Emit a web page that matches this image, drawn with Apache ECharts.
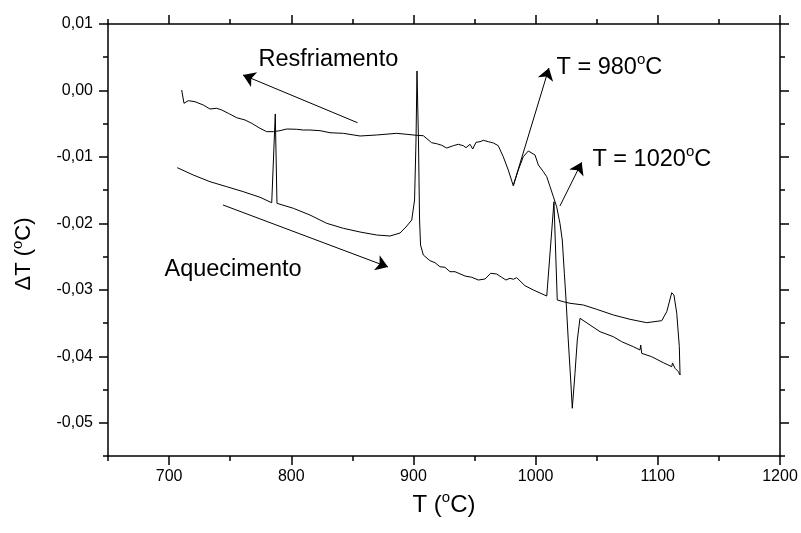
<!DOCTYPE html>
<html><head><meta charset="utf-8">
<script src="https://cdn.jsdelivr.net/npm/echarts@6/dist/echarts.min.js"></script>
<style>html,body{margin:0;padding:0;background:#fff}#c{width:801px;height:533px}</style>
</head><body><div id="c"></div>
<script>
// ---- data ----
const xTicks = [700, 800, 900, 1000, 1100, 1200];
const yTicks = [-0.05, -0.04, -0.03, -0.02, -0.01, 0.00, 0.01];

// Heating run (Aquecimento), in recording order
const heatingT = [706.7,719.8,733.5,747.2,760.7,774.4,784.0,786.9,788.3,801.7,815.3,829.0,842.6,856.3,869.9,880.8,889.0,893.9,898.6,900.9,902.1,902.9,904.1,905.0,905.8,908.1,913.5,917.6,921.7,925.8,929.9,934.0,942.2,947.7,953.1,958.6,963.2,968.1,972.2,975.7,979.0,981.7,984.5,991.3,998.1,1009.1,1015.0,1017.7,1022.6,1028.1,1039.0,1050.0,1063.6,1077.2,1090.9,1103.2,1107.3,1111.4,1113.2,1115.5,1117.6,1118.2];
const heatingDT = [-0.01162,-0.01272,-0.01373,-0.01448,-0.01523,-0.01607,-0.01689,-0.00354,-0.01698,-0.01773,-0.01874,-0.01999,-0.02074,-0.0213,-0.02175,-0.0219,-0.02145,-0.02054,-0.01949,-0.01648,-0.00745,0.00293,-0.00745,-0.01949,-0.02325,-0.02476,-0.02561,-0.02591,-0.02652,-0.02661,-0.02727,-0.02727,-0.02792,-0.02811,-0.02852,-0.02837,-0.02751,-0.02762,-0.02811,-0.02852,-0.02826,-0.02841,-0.02817,-0.02938,-0.03002,-0.03093,-0.01674,-0.03153,-0.03178,-0.03202,-0.03228,-0.03293,-0.03378,-0.03443,-0.03494,-0.03464,-0.03329,-0.03043,-0.03077,-0.03353,-0.03855,-0.04281];

// Cooling run (Resfriamento), in recording order (from the maximum temperature downwards)
const coolingT = [1118.2,1116.8,1114.1,1112.0,1111.4,1104.5,1095.0,1086.8,1086.0,1085.4,1079.9,1070.4,1063.6,1052.7,1044.5,1036.3,1034.1,1032.2,1030.0,1028.7,1026.7,1024.9,1023.5,1021.8,1019.9,1017.2,1014.5,1011.8,1009.1,1006.3,1002.2,999.5,994.0,989.9,985.8,981.7,977.6,973.5,969.4,965.4,961.3,957.2,954.5,951.2,948.5,946.3,943.0,940.8,936.7,932.6,927.2,923.1,919.0,914.9,908.1,902.7,894.5,886.3,869.9,856.3,842.6,831.7,823.5,815.3,809.8,804.4,796.3,790.8,785.3,779.9,774.4,767.6,762.1,755.3,748.5,743.1,739.0,733.5,728.0,721.2,715.7,712.2,710.3];
const coolingDT = [-0.04281,-0.04231,-0.0418,-0.041,-0.04156,-0.04096,-0.04006,-0.03955,-0.0383,-0.03905,-0.03855,-0.0378,-0.03705,-0.0363,-0.03529,-0.03428,-0.03754,-0.04256,-0.04782,-0.04356,-0.03754,-0.03153,-0.02751,-0.0225,-0.01999,-0.01749,-0.01598,-0.01448,-0.01298,-0.01222,-0.01121,-0.00971,-0.00911,-0.00997,-0.01197,-0.01433,-0.01197,-0.00997,-0.00831,-0.0079,-0.00771,-0.0075,-0.00771,-0.0078,-0.00881,-0.0081,-0.00861,-0.00831,-0.0081,-0.00831,-0.00866,-0.00825,-0.00801,-0.00786,-0.00681,-0.00675,-0.0066,-0.00645,-0.0067,-0.00685,-0.00645,-0.00636,-0.00605,-0.00595,-0.00595,-0.00584,-0.0058,-0.00605,-0.0062,-0.0062,-0.00569,-0.00494,-0.00444,-0.0041,-0.00344,-0.00294,-0.00268,-0.00279,-0.00219,-0.00169,-0.00154,-0.00193,0.00007];

// Annotation texts and their anchor points (data coordinates)
const annotTexts = ['{n|Resfriamento}', '{n|Aquecimento}', '{n|T = 980}{sup|o}{n|C}', '{n|T = 1020}{sup|o}{n|C}'];
const annotAt = [[772.8, 0.00488], [695.8, -0.02671], [1016.7, 0.00368], [1046.1, -0.01016]];
// Arrows: [from, to] (data coordinates)
const arrows = [
  [[854.2, -0.00485], [760.5, 0.00233]],
  [[744.1, -0.01723], [879.2, -0.02656]],
  [[981.7, -0.01433], [1010.9, 0.00338]],
  [[1019.9, -0.01738], [1037.7, -0.01081]]
];
const xTitle = '{n|T (}{sup|o}{n|C)}';
const yTitle = '{n|ΔT (}{sup|o}{n|C)}';

// ---- chart ----
const FONT = '"Liberation Sans", Arial, Helvetica, sans-serif';
const chart = echarts.init(document.getElementById('c'), null, {renderer: 'canvas'});
const rect = {left: 108, right: 21, top: 24, bottom: 77};
const fmtY = v => v.toFixed(2).replace('.', ',').replace('-0,00', '0,00');
const fmtX = v => String(Math.round(v));
function richFor(size, supSize) {
  return {
    n: {fontSize: size, fontFamily: FONT, color: '#000', padding: [3, 0, 0, 0]},
    sup: {fontSize: supSize, fontFamily: FONT, color: '#000', verticalAlign: 'top'}
  };
}

function majorX(pos, withLabels) {
  return {
    gridIndex: 0, type: 'value', position: pos, min: 650, max: 1200, interval: 50,
    axisLine: {show: true, onZero: false, lineStyle: {color: '#000', width: 1.5}},
    axisTick: {show: true, inside: false, customValues: xTicks, length: 9, lineStyle: {color: '#000', width: 1.5}},
    axisLabel: {show: withLabels, customValues: xTicks, margin: 13, fontSize: 16, color: '#000', fontFamily: FONT, formatter: fmtX},
    splitLine: {show: false}
  };
}
function minorX(pos) {
  return {
    gridIndex: 1, type: 'value', position: pos, min: 650, max: 1200, interval: 50,
    axisLine: {show: false, onZero: false},
    axisTick: {show: true, inside: false, length: 5, lineStyle: {color: '#000', width: 1.5}},
    axisLabel: {show: false}, splitLine: {show: false}
  };
}
function majorY(pos, withLabels) {
  return {
    gridIndex: 0, type: 'value', position: pos, min: -0.055, max: 0.01, interval: 0.005,
    axisLine: {show: true, onZero: false, lineStyle: {color: '#000', width: 1.5}},
    axisTick: {show: true, inside: false, customValues: yTicks, length: 9, lineStyle: {color: '#000', width: 1.5}},
    axisLabel: {show: withLabels, customValues: yTicks, margin: 15, fontSize: 16, color: '#000', fontFamily: FONT, formatter: fmtY},
    splitLine: {show: false}
  };
}
function minorY(pos) {
  return {
    gridIndex: 1, type: 'value', position: pos, min: -0.055, max: 0.01, interval: 0.005,
    axisLine: {show: false, onZero: false},
    axisTick: {show: true, inside: false, length: 5, lineStyle: {color: '#000', width: 1.5}},
    axisLabel: {show: false}, splitLine: {show: false}
  };
}

const xb = majorX('bottom', true);
xb.name = xTitle;
xb.nameLocation = 'middle';
xb.nameGap = 18;
xb.nameTextStyle = {fontSize: 24, color: '#000', fontFamily: FONT, rich: richFor(24, 15)};
const yl = majorY('left', true);
yl.name = yTitle;
yl.nameLocation = 'middle';
yl.nameGap = 73;
yl.nameTextStyle = {fontSize: 22, color: '#000', fontFamily: FONT, padding: [0, 28, 0, 0], rich: richFor(22, 15)};

const lineStyle = {color: '#000', width: 1};

const option = {
  animation: false,
  backgroundColor: '#fff',
  grid: [Object.assign({}, rect), Object.assign({}, rect)],
  xAxis: [xb, majorX('top', false), minorX('bottom'), minorX('top')],
  yAxis: [yl, majorY('right', false), minorY('left'), minorY('right')],
  series: [
    {
      name: 'Aquecimento', type: 'line', xAxisIndex: 0, yAxisIndex: 0,
      data: heatingT.map((t, i) => [t, heatingDT[i]]),
      showSymbol: false, symbol: 'none', lineStyle: lineStyle, silent: true
    },
    {
      name: 'Resfriamento', type: 'line', xAxisIndex: 0, yAxisIndex: 0,
      data: coolingT.map((t, i) => [t, coolingDT[i]]),
      showSymbol: false, symbol: 'none', lineStyle: lineStyle, silent: true,
      markLine: {
        silent: true, animation: false,
        symbol: ['none', 'arrow'], symbolSize: 12,
        lineStyle: {color: '#000', width: 1, type: 'solid'},
        label: {show: false},
        data: arrows.map(a => [{coord: a[0]}, {coord: a[1]}])
      },
      markPoint: {
        silent: true, animation: false,
        symbol: 'rect', symbolSize: 1, itemStyle: {color: 'rgba(0,0,0,0)'},
        data: annotTexts.map((t, i) => ({
          coord: annotAt[i],
          label: {
            show: true, position: 'right', distance: 0, formatter: t,
            fontSize: 23, color: '#000', fontFamily: FONT, rich: richFor(23.5, 15)
          }
        }))
      }
    }
  ]
};
chart.setOption(option);
</script>
</body></html>
